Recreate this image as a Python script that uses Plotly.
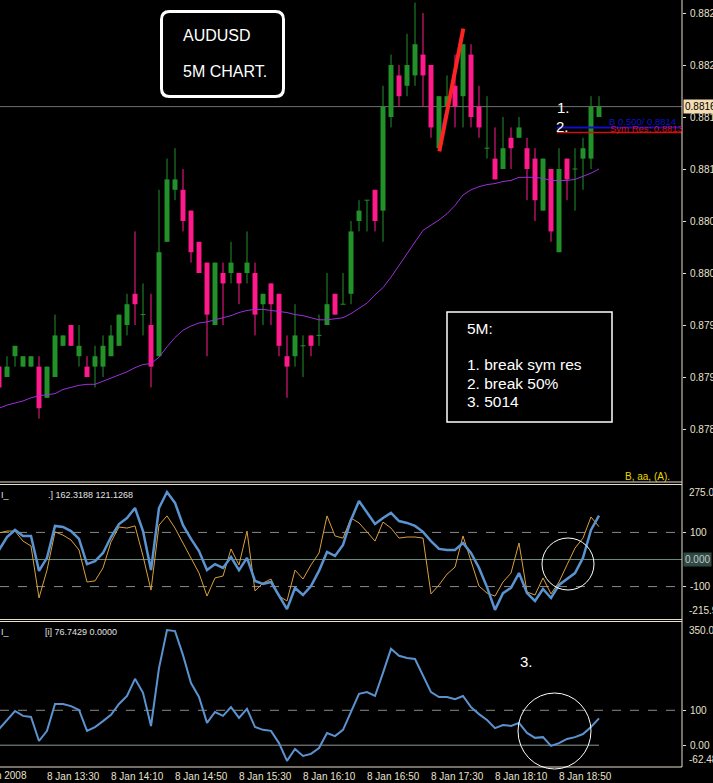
import plotly.graph_objects as go

# ---------------- data ----------------
open_ = [0.8791, 0.8790, 0.8792, 0.8791, 0.8791, 0.8791, 0.8788, 0.8790, 0.8793, 0.8795,
         0.8792, 0.8791, 0.8791, 0.8791, 0.8792, 0.8793, 0.8795, 0.8798, 0.8796, 0.8795,
         0.8792, 0.8803, 0.8808, 0.8808, 0.8806, 0.8803, 0.8801, 0.8795, 0.8800, 0.8800,
         0.8800, 0.8800, 0.8800, 0.8797, 0.8799, 0.8798, 0.8792, 0.8792, 0.8793, 0.8794,
         0.8794, 0.8795, 0.8798, 0.8797, 0.8798, 0.8805, 0.8807, 0.8808, 0.8806, 0.8815,
         0.8819, 0.8818, 0.8819, 0.8821, 0.8820, 0.8812, 0.8816, 0.8818, 0.8817, 0.8821,
         0.8816, 0.8812, 0.8811, 0.8810, 0.8813, 0.8813, 0.8812, 0.8811, 0.8806, 0.8810,
         0.8802, 0.8811, 0.8810, 0.8811, 0.8811, 0.8815]
high = [0.8791, 0.8792, 0.8793, 0.8792, 0.8792, 0.8792, 0.8791, 0.8796, 0.8794, 0.8795,
        0.8795, 0.8792, 0.8793, 0.8794, 0.8795, 0.8796, 0.8798, 0.8804, 0.8799, 0.8798,
        0.8808, 0.8811, 0.8812, 0.8810, 0.8806, 0.8803, 0.8801, 0.8801, 0.8801, 0.8803,
        0.8800, 0.8804, 0.8801, 0.8798, 0.8799, 0.8798, 0.8794, 0.8797, 0.8794, 0.8794,
        0.8796, 0.8800, 0.8798, 0.8800, 0.8805, 0.8807, 0.8807, 0.8808, 0.8818, 0.8821,
        0.8820, 0.8823, 0.8826, 0.8825, 0.8820, 0.8817, 0.8819, 0.8821, 0.8822, 0.8822,
        0.8818, 0.8817, 0.8814, 0.8815, 0.8814, 0.8815, 0.8813, 0.8812, 0.8811, 0.8810,
        0.8812, 0.8811, 0.8812, 0.8813, 0.8817, 0.8817]
low = [0.8789, 0.8790, 0.8791, 0.8791, 0.8791, 0.8786, 0.8788, 0.8790, 0.8793, 0.8793,
       0.8791, 0.8790, 0.8789, 0.8790, 0.8792, 0.8793, 0.8794, 0.8795, 0.8794, 0.8789,
       0.8792, 0.8803, 0.8807, 0.8804, 0.8801, 0.8800, 0.8792, 0.8795, 0.8795, 0.8799,
       0.8797, 0.8799, 0.8794, 0.8795, 0.8795, 0.8792, 0.8788, 0.8791, 0.8790, 0.8792,
       0.8793, 0.8795, 0.8796, 0.8797, 0.8797, 0.8804, 0.8804, 0.8804, 0.8803, 0.8814,
       0.8816, 0.8817, 0.8818, 0.8816, 0.8813, 0.8812, 0.8816, 0.8814, 0.8814, 0.8814,
       0.8813, 0.8811, 0.8809, 0.8810, 0.8810, 0.8813, 0.8807, 0.8805, 0.8806, 0.8803,
       0.8802, 0.8807, 0.8806, 0.8808, 0.8810, 0.8815]
close = [0.8789, 0.8791, 0.8793, 0.8792, 0.8792, 0.8787, 0.8791, 0.8794, 0.8794, 0.8793,
         0.8793, 0.8790, 0.8792, 0.8793, 0.8794, 0.8796, 0.8797, 0.8797, 0.8796, 0.8791,
         0.8802, 0.8809, 0.8809, 0.8805, 0.8802, 0.8800, 0.8796, 0.8801, 0.8799, 0.8801,
         0.8799, 0.8801, 0.8796, 0.8798, 0.8797, 0.8793, 0.8791, 0.8794, 0.8793, 0.8793,
         0.8794, 0.8797, 0.8796, 0.8797, 0.8804, 0.8806, 0.8807, 0.8805, 0.8816, 0.8820,
         0.8817, 0.8820, 0.8822, 0.8819, 0.8814, 0.8817, 0.8817, 0.8816, 0.8822, 0.8815,
         0.8814, 0.8812, 0.8809, 0.8812, 0.8812, 0.8814, 0.8810, 0.8807, 0.8811, 0.8804,
         0.8810, 0.8809, 0.8810, 0.8812, 0.8816, 0.8816]
ma = [0.87870, 0.87873, 0.87875, 0.87877, 0.87880, 0.87882, 0.87883, 0.87884, 0.87888, 0.87890,
      0.87892, 0.87893, 0.87893, 0.87896, 0.87899, 0.87902, 0.87905, 0.87909, 0.87912, 0.87913,
      0.87919, 0.87929, 0.87938, 0.87945, 0.87949, 0.87952, 0.87953, 0.87955, 0.87957, 0.87959,
      0.87962, 0.87964, 0.87965, 0.87965, 0.87964, 0.87963, 0.87962, 0.87960, 0.87959, 0.87957,
      0.87955, 0.87955, 0.87956, 0.87957, 0.87961, 0.87966, 0.87971, 0.87979, 0.87986, 0.87996,
      0.88007, 0.88018, 0.88030, 0.88041, 0.88046, 0.88051, 0.88057, 0.88065, 0.88075, 0.88080,
      0.88083, 0.88085, 0.88086, 0.88088, 0.88089, 0.88092, 0.88092, 0.88092, 0.88091, 0.88089,
      0.88089, 0.88089, 0.88090, 0.88093, 0.88096, 0.88100]
cci_main = [35, 83, 109, 87, 87, -42, 6, 124, 120, 105,
            76, -17, -6, 24, 83, 131, 153, 190, 105, -39,
            190, 249, 209, 127, 76, 31, -39, -17, -31, 9,
            -39, 6, -79, -90, -83, -135, -183, -105, -131, -98,
            -42, 28, 13, 54, 146, 216, 175, 131, 153, 172,
            142, 135, 124, 102, 68, 39, 35, 35, 61, 24,
            -31, -102, -186, -124, -105, -50, -124, -153, -109, -142,
            -94, -72, -50, 6, 109, 162.3188]
cci_signal = [98, 105, 105, 68, 50, -142, -39, 102, 90, 72,
              35, -83, -79, -31, 65, 120, 116, 124, 13, -113,
              127, 161, 116, 61, 9, -50, -135, -68, -61, 39,
              -20, 105, -116, -87, -72, -135, -153, -39, -72, -20,
              24, 161, 87, 79, 153, 135, 102, 68, 138, 116,
              79, 83, 83, 79, -127, -94, -54, -28, 87, -2,
              -98, -124, -135, -83, -50, 61, -120, -131, -68, -127,
              -83, -20, 42, 79, 157, 121.1268]
cci_long = [46, 72, 98, 84, 81, 12, 41, 118, 118, 112,
            101, 41, 52, 69, 87, 118, 141, 190, 150, 55,
            221, 330, 327, 258, 178, 138, 64, 95, 84, 109,
            78, 104, 52, 44, 41, 6, -45, -11, -31, -25,
            -8, 35, 26, 44, 95, 147, 152, 141, 207, 276,
            256, 250, 247, 201, 152, 138, 138, 132, 141, 109,
            89, 72, 49, 58, 55, 64, 35, 21, 23, -2,
            6, 18, 23, 32, 52, 76.7429]
tick_bars = [6, 14, 22, 30, 38, 46, 54, 62, 70]
tick_labels = ["8 Jan 13:30", "8 Jan 14:10", "8 Jan 14:50", "8 Jan 15:30", "8 Jan 16:10",
               "8 Jan 16:50", "8 Jan 17:30", "8 Jan 18:10", "8 Jan 18:50"]
price_ticks = [0.8785, 0.8790, 0.8795, 0.8800, 0.8805, 0.8810, 0.8815, 0.8820, 0.8825]
fib_level = 0.8814
sym_res_level = 0.88135

# ---------------- geometry helpers ----------------
W, H = 713, 783
MR, MB = 31, 16
PW, PH = W - MR, H - MB


def fx(p):
    return p / PW


def fy(p):
    return 1 - p / PH


XMIN, XMAX = 0.125, 85.375
YMIN, YMAX = 0.877981, 0.882625
GREEN = "#22912a"
PINK = "#ff1a8c"
AX = "#e8e0cc"
FONT = "Liberation Sans, Arial, sans-serif"

n = len(close)
idx = list(range(n))
up = [c >= o for o, c in zip(open_, close)]

fig = go.Figure()

# wicks
for cond, col in ((True, GREEN), (False, PINK)):
    xs, ys = [], []
    for i in idx:
        if up[i] == cond:
            xs += [i, i, None]
            ys += [low[i], high[i], None]
    fig.add_trace(go.Scatter(x=xs, y=ys, mode="lines", line=dict(color=col, width=1),
                             hoverinfo="skip", xaxis="x", yaxis="y"))

# bodies
for cond, col in ((True, GREEN), (False, PINK)):
    bx = [i for i in idx if up[i] == cond and close[i] != open_[i]]
    fig.add_trace(go.Bar(x=bx, base=[min(open_[i], close[i]) for i in bx],
                         y=[abs(close[i] - open_[i]) for i in bx], width=0.62,
                         marker=dict(color=col, line=dict(width=0)),
                         hoverinfo="skip", xaxis="x", yaxis="y"))

# doji ticks
dx, dy = [], []
for i in idx:
    if close[i] == open_[i]:
        dx += [i - 0.31, i + 0.31, None]
        dy += [close[i], close[i], None]
fig.add_trace(go.Scatter(x=dx, y=dy, mode="lines", line=dict(color=GREEN, width=1),
                         hoverinfo="skip", xaxis="x", yaxis="y"))

# moving average
fig.add_trace(go.Scatter(x=idx, y=ma, mode="lines", line=dict(color="#9a30d8", width=1),
                         hoverinfo="skip", xaxis="x", yaxis="y"))

# CCI panel 1
fig.add_trace(go.Scatter(x=idx, y=cci_signal, mode="lines", line=dict(color="#d9a03c", width=1),
                         hoverinfo="skip", xaxis="x2", yaxis="y2"))
fig.add_trace(go.Scatter(x=idx, y=cci_main, mode="lines", line=dict(color="#5b93d0", width=2.5),
                         hoverinfo="skip", xaxis="x2", yaxis="y2"))
# CCI panel 2
fig.add_trace(go.Scatter(x=idx, y=cci_long, mode="lines", line=dict(color="#5b93d0", width=2),
                         hoverinfo="skip", xaxis="x3", yaxis="y3"))

shapes = []
# bid line
shapes.append(dict(type="line", xref="x domain", yref="y", x0=0, x1=1, y0=close[-1], y1=close[-1],
                   line=dict(color="#707070", width=1), layer="below"))
# CCI reference levels
for lv in (100, -100):
    shapes.append(dict(type="line", xref="x2 domain", yref="y2", x0=0, x1=1, y0=lv, y1=lv,
                       line=dict(color="#8a8a8a", width=1, dash="dash"), layer="below"))
shapes.append(dict(type="line", xref="x2 domain", yref="y2", x0=0, x1=1, y0=0, y1=0,
                   line=dict(color="#6a8a7c", width=1), layer="below"))
shapes.append(dict(type="line", xref="x3 domain", yref="y3", x0=0, x1=1, y0=100, y1=100,
                   line=dict(color="#8a8a8a", width=1, dash="dash"), layer="below"))
shapes.append(dict(type="line", xref="x3", yref="y3", x0=XMIN, x1=idx[-1], y0=0, y1=0,
                   line=dict(color="#8a9a96", width=1), layer="below"))
# level lines
shapes.append(dict(type="line", xref="x", yref="y", x0=69.75, x1=XMAX, y0=sym_res_level, y1=sym_res_level,
                   line=dict(color="#d01010", width=1.5)))
shapes.append(dict(type="line", xref="x", yref="y", x0=69.75, x1=XMAX, y0=fib_level, y1=fib_level,
                   line=dict(color="#1010c8", width=2)))
# hand drawn trend lines
shapes.append(dict(type="line", xref="x", yref="y", x0=55.34, y0=0.88139, x1=57.6, y1=0.88214,
                   line=dict(color="#2020e0", width=1)))
shapes.append(dict(type="line", xref="x", yref="y", x0=55.04, y0=0.88117, x1=58.04, y1=0.88235,
                   line=dict(color="#ff2424", width=4)))
# panel frames
for yy in (482, 484.5, 619.5, 621.5, 767):
    shapes.append(dict(type="line", xref="paper", yref="paper", x0=0, x1=1, y0=fy(yy), y1=fy(yy),
                       line=dict(color=AX, width=1)))
shapes.append(dict(type="line", xref="paper", yref="paper", x0=1, x1=1, y0=fy(767), y1=1,
                   line=dict(color=AX, width=1)))
# circles
shapes.append(dict(type="circle", xref="paper", yref="paper", x0=fx(542), x1=fx(594),
                   y0=fy(590), y1=fy(538), line=dict(color="white", width=1)))
shapes.append(dict(type="circle", xref="paper", yref="paper", x0=fx(518), x1=fx(591),
                   y0=fy(769), y1=fy(693), line=dict(color="white", width=1)))
# text boxes
shapes.append(dict(type="rect", xref="paper", yref="paper", x0=fx(447), x1=fx(612),
                   y0=fy(422), y1=fy(312), line=dict(color="white", width=1.5), fillcolor="black"))


def rrect(x0, y0, x1, y1, r):
    X0, X1, Y0, Y1 = fx(x0), fx(x1), fy(y0), fy(y1)
    rx, ry = r / PW, r / PH
    return (f"M {X0+rx},{Y0} L {X1-rx},{Y0} Q {X1},{Y0} {X1},{Y0-ry} L {X1},{Y1+ry} "
            f"Q {X1},{Y1} {X1-rx},{Y1} L {X0+rx},{Y1} Q {X0},{Y1} {X0},{Y1+ry} "
            f"L {X0},{Y0-ry} Q {X0},{Y0} {X0+rx},{Y0} Z")


shapes.append(dict(type="path", xref="paper", yref="paper", path=rrect(161.5, 11.5, 283.5, 96.5, 8),
                   line=dict(color="white", width=3), fillcolor="black"))

ann = []


def txt(x, y, s, size, color="white", xanchor="left", **kw):
    ann.append(dict(xref="paper", yref="paper", x=fx(x), y=fy(y), text=s, showarrow=False,
                    xanchor=xanchor, yanchor="middle", font=dict(family=FONT, size=size, color=color),
                    borderpad=0, **kw))


txt(182, 36, "AUDUSD", 16)
txt(182, 71.5, "5M CHART.", 16)
txt(556, 108, "1.", 15)
txt(555, 127, "2.", 15)
txt(609, 128.5, "Sym Res: 0.8813", 9.5, color="#d01010")
txt(608, 121, "B 0.500/ 0.8814", 9.5, color="#1010c8")
txt(466, 328, "5M:", 15.5)
txt(466, 365, "1. break sym res", 15.5)
txt(466, 383, "2. break 50%", 15.5)
txt(466, 401, "3. 5014", 15.5)
txt(624, 476, "B, aa, (A).", 10, color="#e8d800")
txt(519, 661, "3.", 15)
txt(0, 495, "I_", 9, color="#e0e0e0")
txt(47, 495, ".] 162.3188 121.1268", 9, color="#e0e0e0")
txt(0, 632, "I_", 9, color="#e0e0e0")
txt(44, 632, "[i] 76.7429 0.0000", 9, color="#e0e0e0")
txt(28, 775, "8 Jan 2008", 10, color=AX, xanchor="right")

# axis end labels and highlighted current values
ax_ann = [
    ("y", close[-1], f"{close[-1]:.4f}", "middle", "#f5deb3", "#000000", 1),
    ("y2", 0, "0.000", "middle", "#2e4a44", "#c8c8c8", 1),
    ("y2", 275.03, "275.03", "top", None, AX, 5),
    ("y2", -215.93, "-215.93", "bottom", None, AX, 5),
    ("y3", 350.06, "350.06", "top", None, AX, 5),
    ("y3", -62.48, "-62.48", "bottom", None, AX, 5),
]
for yr, val, s, ya, bg, col, sh in ax_ann:
    d = dict(xref="paper", yref=yr, x=1, y=val, text=s, showarrow=False, xanchor="left",
             yanchor=ya, xshift=sh, font=dict(family=FONT, size=10, color=col), borderpad=1)
    if bg:
        d["bgcolor"] = bg
    ann.append(d)

yax_common = dict(side="right", showgrid=False, zeroline=False, ticks="outside", ticklen=3,
                  tickcolor=AX, tickfont=dict(family=FONT, size=10, color=AX), showline=False,
                  ticklabelstandoff=2, automargin=False)

fig.update_layout(
    width=W, height=H, autosize=False,
    margin=dict(l=0, r=MR, t=0, b=MB, pad=0, autoexpand=False),
    paper_bgcolor="black", plot_bgcolor="black",
    showlegend=False, barmode="overlay", hovermode=False,
    font=dict(family=FONT, size=10, color=AX),
    xaxis=dict(domain=[0, 1], range=[XMIN, XMAX], anchor="y", visible=False, automargin=False),
    xaxis2=dict(domain=[0, 1], range=[XMIN, XMAX], anchor="y2", visible=False, automargin=False),
    xaxis3=dict(domain=[0, 1], range=[XMIN, XMAX], anchor="y3", showgrid=False, zeroline=False,
                tickvals=tick_bars, ticktext=tick_labels, ticklabelposition="outside right",
                ticks="", showline=False, ticklabelstandoff=2, automargin=False,
                tickfont=dict(family=FONT, size=10, color=AX)),
    yaxis=dict(domain=[fy(483), 1], range=[YMIN, YMAX], anchor="x", tickvals=price_ticks,
               tickformat=".4f", **yax_common),
    yaxis2=dict(domain=[fy(618), fy(485)], range=[-215.93, 275.03], anchor="x2",
                tickvals=[100, -100], ticktext=["100", "-100"], **yax_common),
    yaxis3=dict(domain=[fy(767), fy(623)], range=[-62.48, 350.06], anchor="x3",
                tickvals=[100, 0], ticktext=["100", "0.00"], **yax_common),
    shapes=shapes,
    annotations=ann,
)

fig.write_html("out.html", config={"responsive": False})
